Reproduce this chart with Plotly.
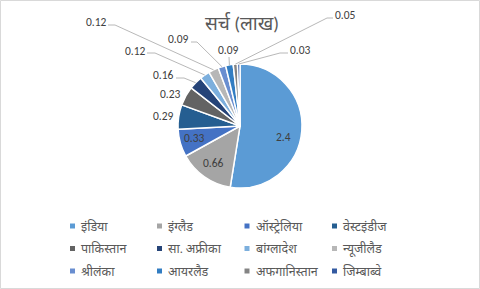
import math
import plotly.graph_objects as go

# ---------------- data ----------------
title_text = "सर्च (लाख)"
categories = ["इंडिया", "इंग्लैड", "ऑस्ट्रेलिया", "वेस्टइंडीज",
              "पाकिस्तान", "सा. अफ्रीका", "बांग्लादेश", "न्यूजीलैड",
              "श्रीलंका", "आयरलैड", "अफगानिस्तान", "जिम्बाब्वे"]
values = [2.4, 0.66, 0.33, 0.29, 0.23, 0.16, 0.12, 0.12, 0.09, 0.09, 0.05, 0.03]
value_labels = ["2.4", "0.66", "0.33", "0.29", "0.23", "0.16", "0.12", "0.12",
                "0.09", "0.09", "0.05", "0.03"]

# ---------------- style ----------------
colors = ["#5B9BD5", "#A5A5A5", "#4472C4", "#255E91", "#636363", "#264478",
          "#7CAFDD", "#B7B7B7", "#698ED0", "#327DC2", "#848484", "#335AA1"]

W, H = 480, 289
CX, CY, R = 240, 126, 62          # pie centre / radius in pixels

# label text centre (px) and optional leader (start x, elbow x, y)
label_layout = [
    (283, 137, None),
    (213, 163, None),
    (194, 138, None),
    (163, 116, None),
    (170, 94, None),
    (163, 75, (176, 184, 78)),
    (135, 51, (147, 155, 53)),
    (96, 22, (108, 115, 25)),
    (178, 39, (191, 197, 42)),
    (228, 50, (229, 229, 57)),
    (345, 15, (333, 327, 18)),
    (300, 50, (288, 280, 53)),
]

def px(x):
    return x / W

def py(y):
    return 1 - y / H

FONT = "Calibri, Carlito, 'Noto Sans', 'Liberation Sans', sans-serif"

fig = go.Figure()
fig.add_trace(go.Pie(
    labels=categories,
    values=values,
    sort=False,
    direction="clockwise",
    rotation=0,
    marker=dict(colors=colors, line=dict(color="white", width=1.5)),
    textinfo="none",
    hoverinfo="label+value",
    showlegend=False,
    domain=dict(x=[px(CX - R), px(CX + R)], y=[py(CY + R), py(CY - R)]),
))

shapes = []
annotations = []

# data labels + leader lines (leader end = slice mid-angle on rim, from data)
total = sum(values)
cum = 0.0
for i, v in enumerate(values):
    theta = 2 * math.pi * (cum + v / 2) / total
    cum += v
    ex = CX + R * math.sin(theta)
    ey = CY - R * math.cos(theta)
    tx, ty, leader = label_layout[i]
    annotations.append(dict(
        x=px(tx), y=py(ty), xref="paper", yref="paper",
        text=value_labels[i], showarrow=False,
        xanchor="center", yanchor="middle",
        font=dict(family=FONT, size=11.5, color="#404040"),
    ))
    if leader is not None:
        sx, bx, ly = leader
        path = (f"M {px(sx)},{py(ly)} L {px(bx)},{py(ly)} "
                f"L {px(ex)},{py(ey)}")
        shapes.append(dict(type="path", xref="paper", yref="paper",
                           path=path,
                           line=dict(color="#A6A6A6", width=0.8)))

# title
annotations.append(dict(
    x=px(242), y=py(23), xref="paper", yref="paper", text=title_text,
    showarrow=False, xanchor="center", yanchor="middle",
    font=dict(family=FONT, size=19, color="#595959"),
))

# legend (4 columns x 3 rows)
col_x = [72.5, 159.5, 247, 334.5]
row_y = [226, 248.5, 271]
for i, name in enumerate(categories):
    mx = col_x[i % 4]
    my = row_y[i // 4]
    shapes.append(dict(type="rect", xref="paper", yref="paper",
                       x0=px(mx - 2.5), x1=px(mx + 2.5),
                       y0=py(my + 2.5), y1=py(my - 2.5),
                       fillcolor=colors[i], line=dict(width=0)))
    annotations.append(dict(
        x=px(mx + 6.5), y=py(my), xref="paper", yref="paper", text=name,
        showarrow=False, xanchor="left", yanchor="middle",
        font=dict(family=FONT, size=12.5, color="#595959"),
    ))

# chart border
shapes.append(dict(type="rect", xref="paper", yref="paper",
                   x0=px(0.5), x1=px(W - 0.5), y0=py(H - 0.5), y1=py(0.5),
                   line=dict(color="#D9D9D9", width=1)))

fig.update_layout(
    width=W, height=H,
    margin=dict(l=0, r=0, t=0, b=0),
    paper_bgcolor="white", plot_bgcolor="white",
    shapes=shapes, annotations=annotations,
    showlegend=False,
)

fig.write_html("out.html")
